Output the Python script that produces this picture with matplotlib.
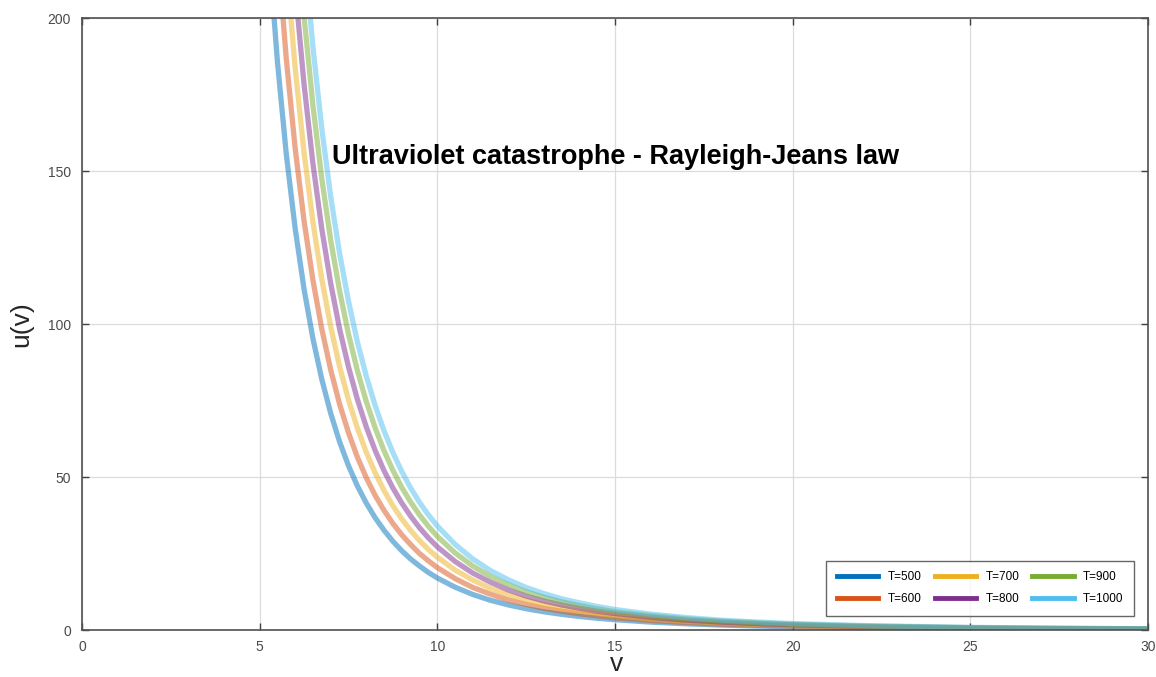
import numpy as np
import matplotlib.pyplot as plt
from matplotlib.lines import Line2D

# frequency samples (v) and u(v) for each temperature
v = [5.0, 5.25, 5.5, 5.75, 6.0, 6.25, 6.5, 6.75, 7.0, 7.25, 7.5, 7.75, 8.0, 8.25, 8.5, 8.75, 9.0,
     9.25, 9.5, 9.75, 10,
     10.5, 11, 11.5, 12, 12.5, 13, 13.5, 14, 14.5, 15,
     16, 17, 18, 19, 20,
     22, 25, 27, 30]

u_500 = [272, 223.8, 185.8, 155.5, 131.2, 111.4, 95.2, 81.9, 70.8, 61.5, 53.7, 47.1, 41.5, 36.7, 32.6, 29.0, 25.9,
         23.2, 20.9, 18.8, 17.0,
         14.0, 11.6, 9.7, 8.2, 6.96, 5.95, 5.12, 4.43, 3.85, 3.36,
         2.59, 2.04, 1.62, 1.30, 1.06,
         0.73, 0.44, 0.32, 0.21]
u_600 = [326.4, 268.5, 222.9, 186.6, 157.4, 133.7, 114.3, 98.3, 85.0, 73.8, 64.5, 56.5, 49.8, 44.0, 39.1, 34.8, 31.1,
         27.9, 25.0, 22.6, 20.4,
         16.8, 13.9, 11.7, 9.8, 8.36, 7.1, 6.14, 5.3, 4.61, 4.0,
         3.1, 2.44, 1.9, 1.57, 1.3,
         0.87, 0.52, 0.38, 0.25]
u_700 = [380.8, 313.3, 260.1, 217.7, 183.6, 156.0, 133.3, 114.6, 99.1, 86.1, 75.2, 66.0, 58.1, 51.4, 45.6, 40.6, 36.3,
         32.5, 29.2, 26.3, 23.8,
         19.6, 16.3, 13.6, 11.5, 9.75, 8.3, 7.17, 6.2, 5.38, 4.7,
         3.6, 2.85, 2.3, 1.83, 1.5,
         1.0, 0.61, 0.45, 0.29]
u_800 = [435.2, 358.0, 297.2, 248.8, 209.9, 178.3, 152.4, 131.0, 113.3, 98.4, 86.0, 75.4, 66.4, 58.7, 52.1, 46.4, 41.5,
         37.2, 33.4, 30.1, 27.2,
         22.4, 18.6, 15.6, 13.1, 11.1, 9.5, 8.19, 7.1, 6.15, 5.4,
         4.2, 3.26, 2.6, 2.09, 1.7,
         1.16, 0.70, 0.51, 0.34]
u_900 = [489.6, 402.8, 334.4, 279.9, 236.1, 200.5, 171.4, 147.4, 127.4, 110.8, 96.7, 84.8, 74.7, 66.1, 58.6, 52.2, 46.6,
         41.8, 37.6, 33.9, 30.6,
         25.2, 20.9, 17.5, 14.8, 12.5, 10.7, 9.21, 8.0, 6.92, 6.0,
         4.7, 3.66, 2.9, 2.35, 1.9,
         1.3, 0.78, 0.58, 0.38]
u_1000 = [544, 447.5, 371.6, 311.0, 262.3, 222.8, 190.5, 163.8, 141.6, 123.1, 107.5, 94.2, 83.0, 73.4, 65.1, 58.0, 51.8,
          46.4, 41.7, 37.6, 34.0,
          28.0, 23.2, 19.4, 16.4, 13.9, 11.9, 10.2, 8.9, 7.69, 6.7,
          5.2, 4.07, 3.2, 2.61, 2.1,
          1.45, 0.87, 0.64, 0.42]

labels = ["T=500", "T=600", "T=700", "T=800", "T=900", "T=1000"]
series = [u_500, u_600, u_700, u_800, u_900, u_1000]
colors = ["#0072BD", "#D95319", "#EDB120", "#7E2F8E", "#77AC30", "#4DBEEE"]

plt.rcParams['font.family'] = ['Liberation Sans', 'DejaVu Sans']

fig = plt.figure(figsize=(11.56, 6.77), dpi=100)
ax = fig.add_axes([0.0709, 0.0694, 0.9222, 0.904])

for u, c in zip(series, colors):
    ax.plot(v, u, color=c, lw=3.8, alpha=0.5, solid_joinstyle='round')

ax.set_xlim(0, 30)
ax.set_ylim(0, 200)
ax.set_xticks(range(0, 31, 5))
ax.set_yticks(range(0, 201, 50))
ax.grid(True, color='#dcdcdc', lw=0.9)
ax.set_axisbelow(True)
ax.tick_params(direction='in', length=5, width=1, colors='#404040', labelcolor='#4a4a4a',
               labelsize=10, top=True, right=True)
ax.tick_params(axis='x', pad=7)
ax.tick_params(axis='y', pad=8)
for s in ax.spines.values():
    s.set_color('#505050')
    s.set_linewidth(1.2)

ax.set_xlabel("v", fontsize=19, color='#262626')
ax.xaxis.set_label_coords(0.501, -0.036)
ax.set_ylabel("u(v)", fontsize=19, labelpad=10, color='#262626')
ax.text(0.501, 0.773, "Ultraviolet catastrophe - Rayleigh-Jeans law", transform=ax.transAxes,
        ha='center', va='center', fontsize=19.5, fontweight='bold')

handles = [Line2D([0], [0], color=c, lw=3.5) for c in colors]
leg = ax.legend(handles, labels, ncol=3, loc='lower right', fontsize=8.5,
                frameon=True, fancybox=False, edgecolor='#404040', handlelength=3.5,
                columnspacing=1.1, borderpad=0.9, labelspacing=0.85, borderaxespad=0,
                bbox_to_anchor=(0.987, 0.023))
leg.get_frame().set_linewidth(1.0)

fig.savefig("out.png", dpi=100)
